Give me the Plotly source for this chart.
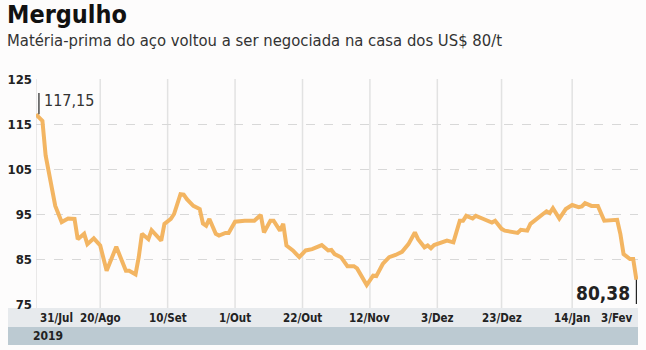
import plotly.graph_objects as go

dates = [
    "2019-07-31", "2019-08-02", "2019-08-03", "2019-08-05", "2019-08-06", "2019-08-08",
    "2019-08-10", "2019-08-12", "2019-08-13", "2019-08-15", "2019-08-16", "2019-08-18",
    "2019-08-20", "2019-08-22", "2019-08-25", "2019-08-28", "2019-08-29", "2019-08-31",
    "2019-09-01", "2019-09-02", "2019-09-04", "2019-09-05", "2019-09-08", "2019-09-09",
    "2019-09-11", "2019-09-12", "2019-09-14", "2019-09-15", "2019-09-16", "2019-09-18",
    "2019-09-20", "2019-09-21", "2019-09-22", "2019-09-23", "2019-09-25", "2019-09-26",
    "2019-09-28", "2019-09-29", "2019-10-01", "2019-10-04", "2019-10-07", "2019-10-09",
    "2019-10-10", "2019-10-12", "2019-10-13", "2019-10-15", "2019-10-16", "2019-10-17",
    "2019-10-19", "2019-10-21", "2019-10-23", "2019-10-25", "2019-10-28", "2019-10-30",
    "2019-10-31", "2019-11-01", "2019-11-03", "2019-11-05", "2019-11-07", "2019-11-08",
    "2019-11-10", "2019-11-11", "2019-11-13", "2019-11-14", "2019-11-16", "2019-11-18",
    "2019-11-20", "2019-11-22", "2019-11-24", "2019-11-26", "2019-11-27", "2019-11-29",
    "2019-11-30", "2019-12-01", "2019-12-02", "2019-12-03", "2019-12-05", "2019-12-06",
    "2019-12-08", "2019-12-10", "2019-12-11", "2019-12-12", "2019-12-14", "2019-12-15",
    "2019-12-17", "2019-12-18", "2019-12-20", "2019-12-21", "2019-12-23", "2019-12-24",
    "2019-12-26", "2019-12-28", "2019-12-29", "2019-12-31", "2020-01-01", "2020-01-03",
    "2020-01-05", "2020-01-06", "2020-01-07", "2020-01-08", "2020-01-10", "2020-01-12",
    "2020-01-14", "2020-01-16", "2020-01-17", "2020-01-18", "2020-01-20", "2020-01-22",
    "2020-01-24", "2020-01-26", "2020-01-28", "2020-01-29", "2020-01-30", "2020-02-01",
    "2020-02-02", "2020-02-03",
]

prices = [
    117.15, 115.7, 108.0, 100.6, 96.8, 93.2,
    94.0, 93.9, 89.4, 90.6, 88.3, 89.6,
    88.0, 82.4, 87.7, 82.4, 82.4, 81.6,
    85.4, 90.6, 89.4, 91.4, 89.1, 92.8,
    93.9, 95.0, 99.4, 99.3, 98.3, 96.8,
    96.1, 92.9, 92.4, 93.9, 90.6, 90.2,
    90.8, 90.8, 93.3, 93.5, 93.5, 94.8,
    90.9, 93.5, 93.5, 91.3, 92.8, 88.0,
    86.9, 85.4, 86.9, 87.2, 88.1, 86.9,
    87.0, 86.1, 85.4, 83.4, 83.4, 82.9,
    80.6, 79.2, 81.3, 81.2, 83.9, 85.4,
    85.9, 86.6, 88.3, 90.9, 89.4, 87.6,
    88.0, 87.4, 88.1, 88.3, 88.7, 89.1,
    88.7, 93.5, 93.5, 94.6, 94.0, 94.6,
    94.0, 93.7, 93.1, 93.5, 91.7, 91.3,
    91.1, 90.8, 91.5, 91.3, 92.8, 94.0,
    95.0, 95.6, 95.2, 96.3, 94.0, 96.1,
    97.0, 96.5, 96.7, 97.4, 96.8, 96.8,
    93.5, 93.7, 93.7, 90.6, 86.1, 85.0,
    85.0, 80.38,
]

tick_dates = ["2019-07-31", "2019-08-20", "2019-09-10", "2019-10-01", "2019-10-22",
              "2019-11-12", "2019-12-03", "2019-12-23", "2020-01-14", "2020-02-03"]
tick_labels = ["31/Jul", "20/Ago", "10/Set", "1/Out", "22/Out",
               "12/Nov", "3/Dez", "23/Dez", "14/Jan", "3/Fev"]
y_ticks = [75, 85, 95, 105, 115, 125]

title = "Mergulho"
subtitle = "Matéria-prima do aço voltou a ser negociada na casa dos US$ 80/t"
year_label = "2019"
first_label = "117,15"
last_label = "80,38"

NARROW = "DejaVu Sans Condensed, Roboto, sans-serif"
LINE_COLOR = "#f3b562"

fig = go.Figure()
fig.add_trace(go.Scatter(
    x=dates, y=prices, mode="lines",
    line=dict(color=LINE_COLOR, width=4, shape="linear"),
    hoverinfo="skip", showlegend=False,
))

shapes = []
for d in tick_dates[:-1]:
    shapes.append(dict(type="line", xref="x", yref="paper", x0=d, x1=d, y0=-0.02, y1=1,
                       line=dict(color="#e2e2e2", width=1.5), layer="below"))

shapes.append(dict(type="rect", xref="paper", yref="paper", x0=-0.0465, x1=1.0,
                   y0=-0.102, y1=-0.018, fillcolor="#e7eaed", line=dict(width=0), layer="below"))
shapes.append(dict(type="rect", xref="paper", yref="paper", x0=-0.0465, x1=1.0,
                   y0=-0.182, y1=-0.102, fillcolor="#bccad2", line=dict(width=0), layer="below"))

shapes.append(dict(type="line", xref="x", yref="y", x0="2019-07-31 22:00", x1="2019-07-31 22:00",
                   y0=prices[0], y1=121.9, line=dict(color="#222", width=1.2)))
shapes.append(dict(type="line", xref="x", yref="y", x0=dates[-1], x1=dates[-1],
                   y0=prices[-1], y1=74.8, line=dict(color="#222", width=1.2)))

annotations = [
    dict(text="<b>" + title + "</b>", xref="paper", yref="paper", x=-0.052, y=1.36,
         xanchor="left", yanchor="top", showarrow=False,
         font=dict(family=NARROW, size=25, color="#111")),
    dict(text=subtitle, xref="paper", yref="paper", x=-0.052, y=1.172,
         xanchor="left", yanchor="middle", showarrow=False,
         font=dict(family=NARROW, size=16.5, color="#333")),
    dict(text="<b>" + year_label + "</b>", xref="paper", yref="paper", x=-0.008, y=-0.142,
         xanchor="left", yanchor="middle", showarrow=False,
         font=dict(family=NARROW, size=12, color="#222")),
    dict(text=first_label, xref="x", yref="y", x="2019-08-01 18:00", y=120.3,
         xanchor="left", yanchor="middle", showarrow=False,
         font=dict(family=NARROW, size=16, color="#333")),
    dict(text="<b>" + last_label + "</b>", xref="x", yref="y", x="2020-02-01 18:00", y=77.4,
         xanchor="right", yanchor="middle", showarrow=False,
         font=dict(family=NARROW, size=19, color="#222")),
]
for i, (d, lab) in enumerate(zip(tick_dates, tick_labels)):
    if i == 0:
        xa, xv = "left", "2019-07-31 18:00"
    elif i == len(tick_dates) - 1:
        xa, xv = "right", "2020-02-02 12:00"
    else:
        xa, xv = "center", d
    annotations.append(dict(text="<b>" + lab + "</b>", xref="x", yref="paper", x=xv, y=-0.062,
                            xanchor=xa, yanchor="middle", showarrow=False,
                            font=dict(family=NARROW, size=11.5, color="#222")))

fig.update_layout(
    width=646, height=350,
    margin=dict(l=36, r=8, t=79, b=46),
    paper_bgcolor="#fdfcfc", plot_bgcolor="#fdfcfc",
    xaxis=dict(range=["2019-07-31", "2020-02-03 12:00"], type="date",
               showgrid=False, showticklabels=False, zeroline=False, showline=False,
               fixedrange=True),
    yaxis=dict(range=[75, 125], tickvals=y_ticks, ticktext=["<b>%d</b>" % v for v in y_ticks],
               showgrid=True, gridcolor="#d8d8d8", griddash="dash", gridwidth=1,
               zeroline=False, showline=False, ticks="", ticklabelstandoff=3,
               tickfont=dict(family=NARROW, size=13, color="#222"), fixedrange=True),
    shapes=shapes,
    annotations=annotations,
    showlegend=False,
)

fig.write_html("out.html", config={"displayModeBar": False})
